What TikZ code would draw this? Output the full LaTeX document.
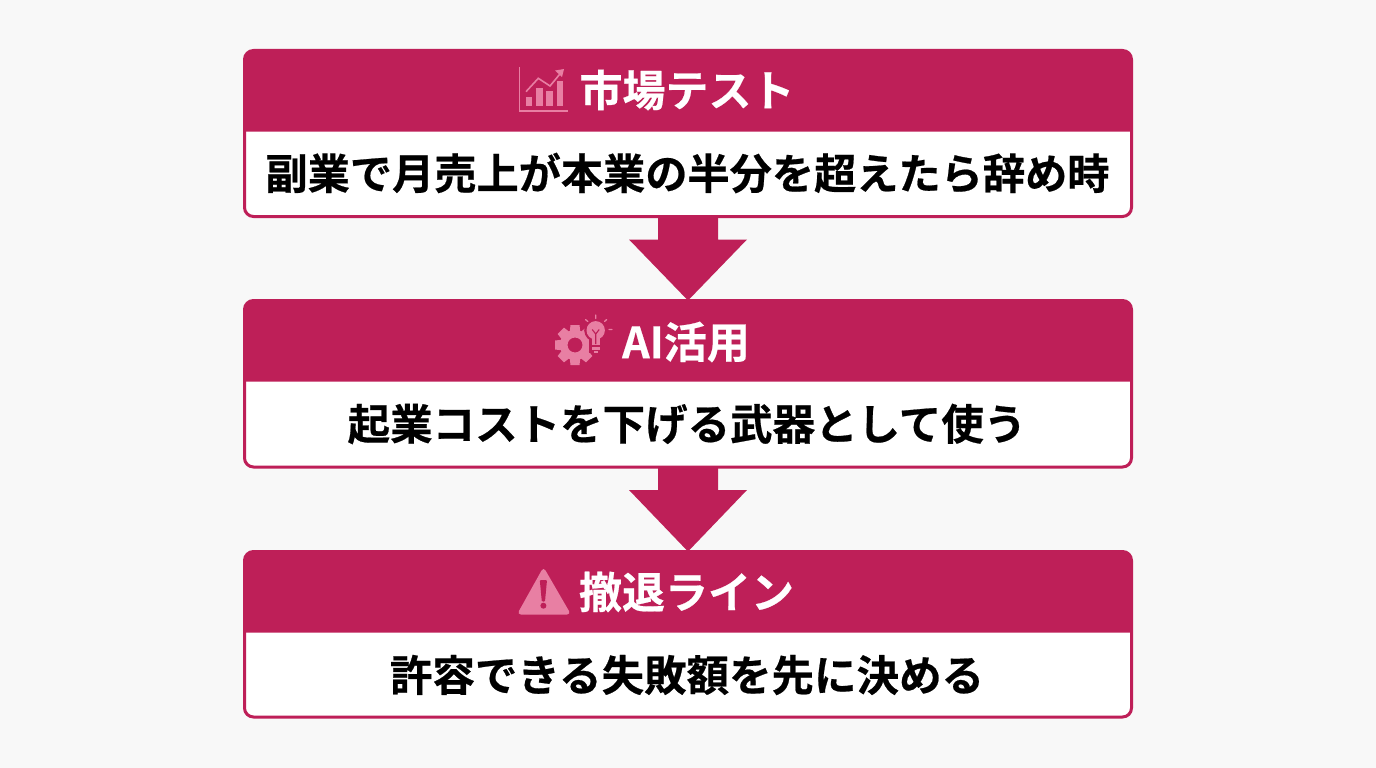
\documentclass[tikz,border=0pt]{standalone}
\usepackage{fontspec}
\setmainfont{Noto Sans CJK JP}[BoldFont={Noto Sans CJK JP Bold},BoldFeatures={FakeBold=0.5}]
\usetikzlibrary{calc}
\definecolor{crim}{HTML}{BE1F58}
\definecolor{bgc}{HTML}{F8F8F8}
\definecolor{icon}{HTML}{E87FA3}
\tikzset{
  x=1pt,y=-1pt,
  card/.style={draw=crim,line width=3pt,fill=white,rounded corners=9pt,minimum width=887pt,outer sep=0pt,inner sep=0pt,anchor=north west},
  headtext/.style={text=white,font=\fontsize{43}{43}\selectfont\bfseries,inner sep=0pt},
  bodytext/.style={text=black,font=\fontsize{42.5}{43}\selectfont\bfseries,inner sep=0pt},
  flowarrow/.style={fill=crim,draw=none},
  iconline/.style={draw=icon,line width=1.6pt},
}
\newcommand{\headband}[2]{%
  \fill[crim] (#1.north) [rounded corners=9pt] -- (#1.north east) [sharp corners] -- ($(#1.north east)+(0,#2)$) -- ($(#1.north west)+(0,#2)$) [rounded corners=9pt] -- (#1.north west) [sharp corners] -- cycle;
}
\newcommand{\flowarrowpath}[2]{%
  \fill[flowarrow] ($(#1.south)+(-30,0)$) -- ($(#1.south)+(30,0)$) -- ($(#1.south)+(30,23)$) -- ($(#1.south)+(59,23)$) -- (#2.north) -- ($(#1.south)+(-59,23)$) -- ($(#1.south)+(-30,23)$) -- cycle;
}
\begin{document}
\begin{tikzpicture}
\useasboundingbox (0,0) rectangle (1376,768);
\fill[bgc] (0,0) rectangle (1376,768);
% cards
\node[card,minimum height=166pt] (c1) at (244.5,50.5) {};
\node[card,minimum height=166.5pt] (c2) at (244.5,300.5) {};
\node[card,minimum height=165.5pt] (c3) at (244.5,551.5) {};
\headband{c1}{81}
\headband{c2}{81}
\headband{c3}{81}
% connectors
\flowarrowpath{c1}{c2}
\flowarrowpath{c2}{c3}
% texts
\node[headtext] (h1) at (687,90) {市場テスト};
\node[headtext] (h2) at (686,342) {AI活用};
\node[headtext] (h3) at (686.5,592) {撤退ライン};
\node[bodytext,font=\fontsize{42.2}{43}\selectfont\bfseries] (b1) at (687.5,173) {副業で月売上が本業の半分を超えたら辞め時};
\node[bodytext] (b2) at (687,424) {起業コストを下げる武器として使う};
\node[bodytext] (b3) at (687,675) {許容できる失敗額を先に決める};
% chart icon
\draw[iconline] (519.5,67) -- (519.5,110.7) -- (568,110.7);
\fill[icon] (525.5,97) rectangle (532,106);
\fill[icon] (535.7,87.7) rectangle (543.3,106);
\fill[icon] (546,90.7) rectangle (553.3,106);
\fill[icon] (556.7,80.7) rectangle (563.3,106);
\draw[iconline] (526,91.7) -- (538.3,78.3) -- (550,86) -- (562,71.5);
\fill[icon] (564,69) -- (555,70.5) -- (562,77) -- cycle;
% gear icon
\foreach \a in {0,45,...,315}{
  \fill[icon,rotate around={\a:(575,345)}] (570.5,325) -- (579.5,325) -- (580.5,334) -- (569.5,334) -- cycle;
}
\fill[icon,even odd rule] (575,345) circle[radius=15] (575,345) circle[radius=7.5];
% bulb icon
\fill[crim] (595.7,330.3) circle[radius=11.5];
\fill[crim] (589,338) rectangle (602.5,353);
\fill[icon] (595.7,330.3) circle[radius=9.2];
\fill[icon] (591.5,336) rectangle (600,345);
\fill[icon] (592,346.5) rectangle (599.5,350);
\fill[icon] (593.5,350.8) rectangle (598,352.5);
\draw[crim,line width=1.1pt] (592.2,329.5) -- (595.7,334) -- (599.2,329.5) (595.7,334) -- (595.7,344);
\draw[icon,line width=1.3pt,line cap=round]
  (595.7,315) -- (595.7,318.5)
  (585.5,319.5) -- (587.8,321.5)
  (606.7,319.5) -- (604.5,321.5)
  (609,329.5) -- (612,329.5);
% warning icon
\fill[icon,rounded corners=4pt] (543.5,567) -- (571,614.5) -- (517,614.5) -- cycle;
\fill[crim,rounded corners=1pt] (539.8,580) -- (547,580) -- (545,601.5) -- (541.8,601.5) -- cycle;
\fill[crim] (543.4,605.7) circle[radius=3];
\end{tikzpicture}
\end{document}
